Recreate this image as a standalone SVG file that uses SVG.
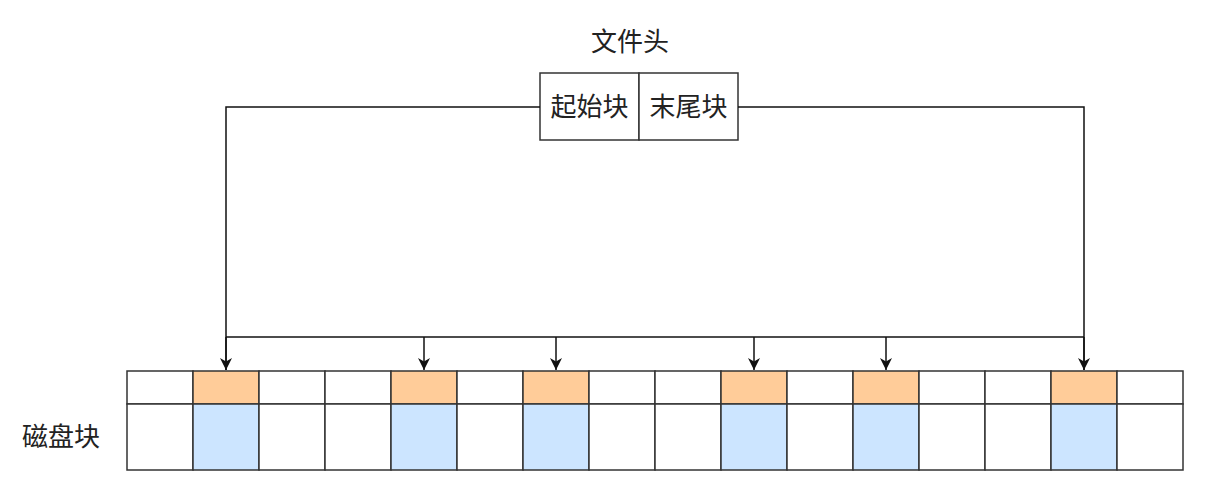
<svg xmlns="http://www.w3.org/2000/svg" width="1230" height="491" viewBox="0 0 1230 491">
<defs>
<style>
.t{font-family:"Liberation Sans","Noto Sans CJK SC",sans-serif;font-size:26px;fill:#222;text-anchor:middle;dominant-baseline:central}
.c{fill:#fff;stroke:#333;stroke-width:1.5}
.o{fill:#FFCC99;stroke:#333;stroke-width:1.5}
.b{fill:#CCE5FF;stroke:#333;stroke-width:1.5}
.l{fill:none;stroke:#111;stroke-width:1.5}
</style>
<marker id="a" viewBox="0 0 10 10" refX="10" refY="5" markerWidth="14" markerHeight="12" markerUnits="userSpaceOnUse" orient="auto">
<path d="M0,0 L10,5 L0,10 L3,5 Z" fill="#111"/>
</marker>
</defs>
<rect width="1230" height="491" fill="#fff"/>
<text class="t" x="630" y="42">文件头</text>
<g id="header">
<rect class="c" x="540" y="73" width="99" height="67"/>
<text class="t" x="589.5" y="107">起始块</text>
<rect class="c" x="639" y="73" width="99" height="67"/>
<text class="t" x="688.5" y="107">末尾块</text>
</g>
<g id="connectors">
<path class="l" d="M540,107 H226 V370"/>
<path class="l" d="M738,107 H1084 V370"/>
<path class="l" d="M226,337 H1084"/>
<path class="l" d="M226,337 V370" marker-end="url(#a)"/>
<path class="l" d="M424,337 V370" marker-end="url(#a)"/>
<path class="l" d="M556,337 V370" marker-end="url(#a)"/>
<path class="l" d="M754,337 V370" marker-end="url(#a)"/>
<path class="l" d="M886,337 V370" marker-end="url(#a)"/>
<path class="l" d="M1084,337 V370" marker-end="url(#a)"/>
</g>
<g id="disk">
<rect class="c" x="127" y="371" width="66" height="33"/><rect class="c" x="127" y="404" width="66" height="66"/>
<rect class="o" x="193" y="371" width="66" height="33"/><rect class="b" x="193" y="404" width="66" height="66"/>
<rect class="c" x="259" y="371" width="66" height="33"/><rect class="c" x="259" y="404" width="66" height="66"/>
<rect class="c" x="325" y="371" width="66" height="33"/><rect class="c" x="325" y="404" width="66" height="66"/>
<rect class="o" x="391" y="371" width="66" height="33"/><rect class="b" x="391" y="404" width="66" height="66"/>
<rect class="c" x="457" y="371" width="66" height="33"/><rect class="c" x="457" y="404" width="66" height="66"/>
<rect class="o" x="523" y="371" width="66" height="33"/><rect class="b" x="523" y="404" width="66" height="66"/>
<rect class="c" x="589" y="371" width="66" height="33"/><rect class="c" x="589" y="404" width="66" height="66"/>
<rect class="c" x="655" y="371" width="66" height="33"/><rect class="c" x="655" y="404" width="66" height="66"/>
<rect class="o" x="721" y="371" width="66" height="33"/><rect class="b" x="721" y="404" width="66" height="66"/>
<rect class="c" x="787" y="371" width="66" height="33"/><rect class="c" x="787" y="404" width="66" height="66"/>
<rect class="o" x="853" y="371" width="66" height="33"/><rect class="b" x="853" y="404" width="66" height="66"/>
<rect class="c" x="919" y="371" width="66" height="33"/><rect class="c" x="919" y="404" width="66" height="66"/>
<rect class="c" x="985" y="371" width="66" height="33"/><rect class="c" x="985" y="404" width="66" height="66"/>
<rect class="o" x="1051" y="371" width="66" height="33"/><rect class="b" x="1051" y="404" width="66" height="66"/>
<rect class="c" x="1117" y="371" width="66" height="33"/><rect class="c" x="1117" y="404" width="66" height="66"/>
</g>
<text class="t" x="61" y="437">磁盘块</text>
</svg>
